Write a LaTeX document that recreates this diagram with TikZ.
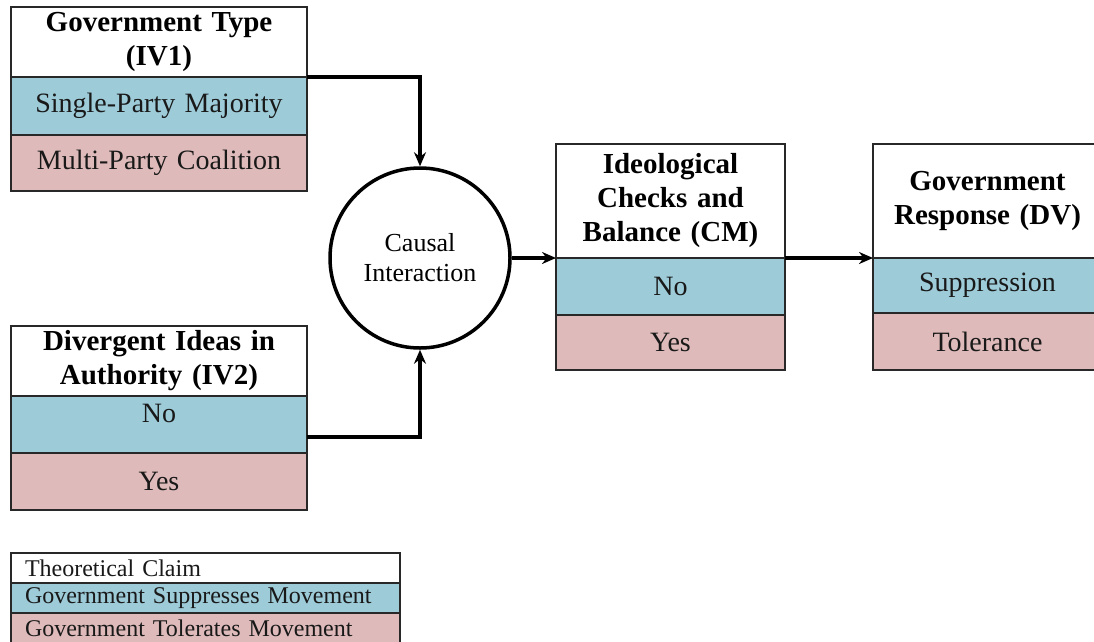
\documentclass[tikz,border=0pt]{standalone}
\usepackage{fontspec}
\setmainfont{Liberation Serif}
\usetikzlibrary{positioning,arrows.meta}
\definecolor{noblue}{RGB}{157,203,216}
\definecolor{yespink}{RGB}{222,187,186}
\definecolor{edgegray}{RGB}{40,40,40}
\begin{document}
\begin{tikzpicture}[x=1pt,y=-1pt,
  cell/.style={draw=edgegray, line width=1.4pt, inner sep=0pt, outer sep=0pt,
    align=center, text=black!90, font=\fontsize{28}{33}\selectfont},
  head/.style={cell, fill=white, text=black, font=\bfseries\fontsize{29}{34}\selectfont},
  nocell/.style={cell, fill=noblue},
  yescell/.style={cell, fill=yespink},
  keycell/.style={cell, align=left, text width=361pt, inner xsep=14pt,
    minimum height=30pt, font=\fontsize{24}{26}\selectfont},
  flow/.style={line width=3.5pt, -{Stealth[length=14pt,width=12pt]}}]
  \useasboundingbox (0,0) rectangle (1094,641);
  \clip (0,0) rectangle (1094,641);

  \node[head, text width=296pt, minimum height=70pt, anchor=north west] (govHead) at (11,7) {Government Type\\(IV1)};
  \node[nocell, text width=296pt, minimum height=58pt, below=0pt of govHead] (govSingle) {Single-Party Majority};
  \node[yescell, text width=296pt, minimum height=56pt, below=0pt of govSingle] (govMulti) {Multi-Party Coalition};

  \node[head, text width=296pt, minimum height=70pt, anchor=north west] (ideaHead) at (11,326) {Divergent Ideas in\\Authority (IV2)};
  \node[nocell, text width=296pt, minimum height=57pt, text height=20pt, text depth=25pt, below=0pt of ideaHead] (ideaNo) {No};
  \node[yescell, text width=296pt, minimum height=57pt, below=0pt of ideaNo] (ideaYes) {Yes};

  \node[circle, draw=black, line width=3.5pt, minimum size=180pt, inner sep=0pt, align=center,
    font=\fontsize{26}{30}\selectfont] (cause) at (420,258) {Causal\\Interaction};

  \node[head, text width=229pt, minimum height=114pt, anchor=north west] (checkHead) at (556,144) {Ideological\\Checks and\\Balance (CM)};
  \node[nocell, text width=229pt, minimum height=57pt, below=0pt of checkHead] (checkNo) {No};
  \node[yescell, text width=229pt, minimum height=55pt, below=0pt of checkNo] (checkYes) {Yes};

  \node[head, text width=229pt, minimum height=114pt, right=88pt of checkHead] (respHead) {Government\\Response (DV)};
  \node[nocell, text width=229pt, minimum height=55pt, below=0pt of respHead] (respNo) {Suppression};
  \node[yescell, text width=229pt, minimum height=57pt, below=0pt of respNo] (respYes) {Tolerance};

  \node[keycell, fill=white, anchor=north west] (keyClaim) at (11,553) {Theoretical Claim};
  \node[keycell, fill=noblue, below=0pt of keyClaim] (keyNo) {Government Suppresses Movement};
  \node[keycell, fill=yespink, below=0pt of keyNo] (keyYes) {Government Tolerates Movement};

  \draw[flow] (govSingle.north east) -| (cause.north);
  \draw[flow] ([yshift=16pt]ideaNo.south east) -| (cause.south);
  \draw[flow] (cause.east) -- (checkNo.north west);
  \draw[flow] (checkNo.north east) -- (respNo.north west);
\end{tikzpicture}
\end{document}
